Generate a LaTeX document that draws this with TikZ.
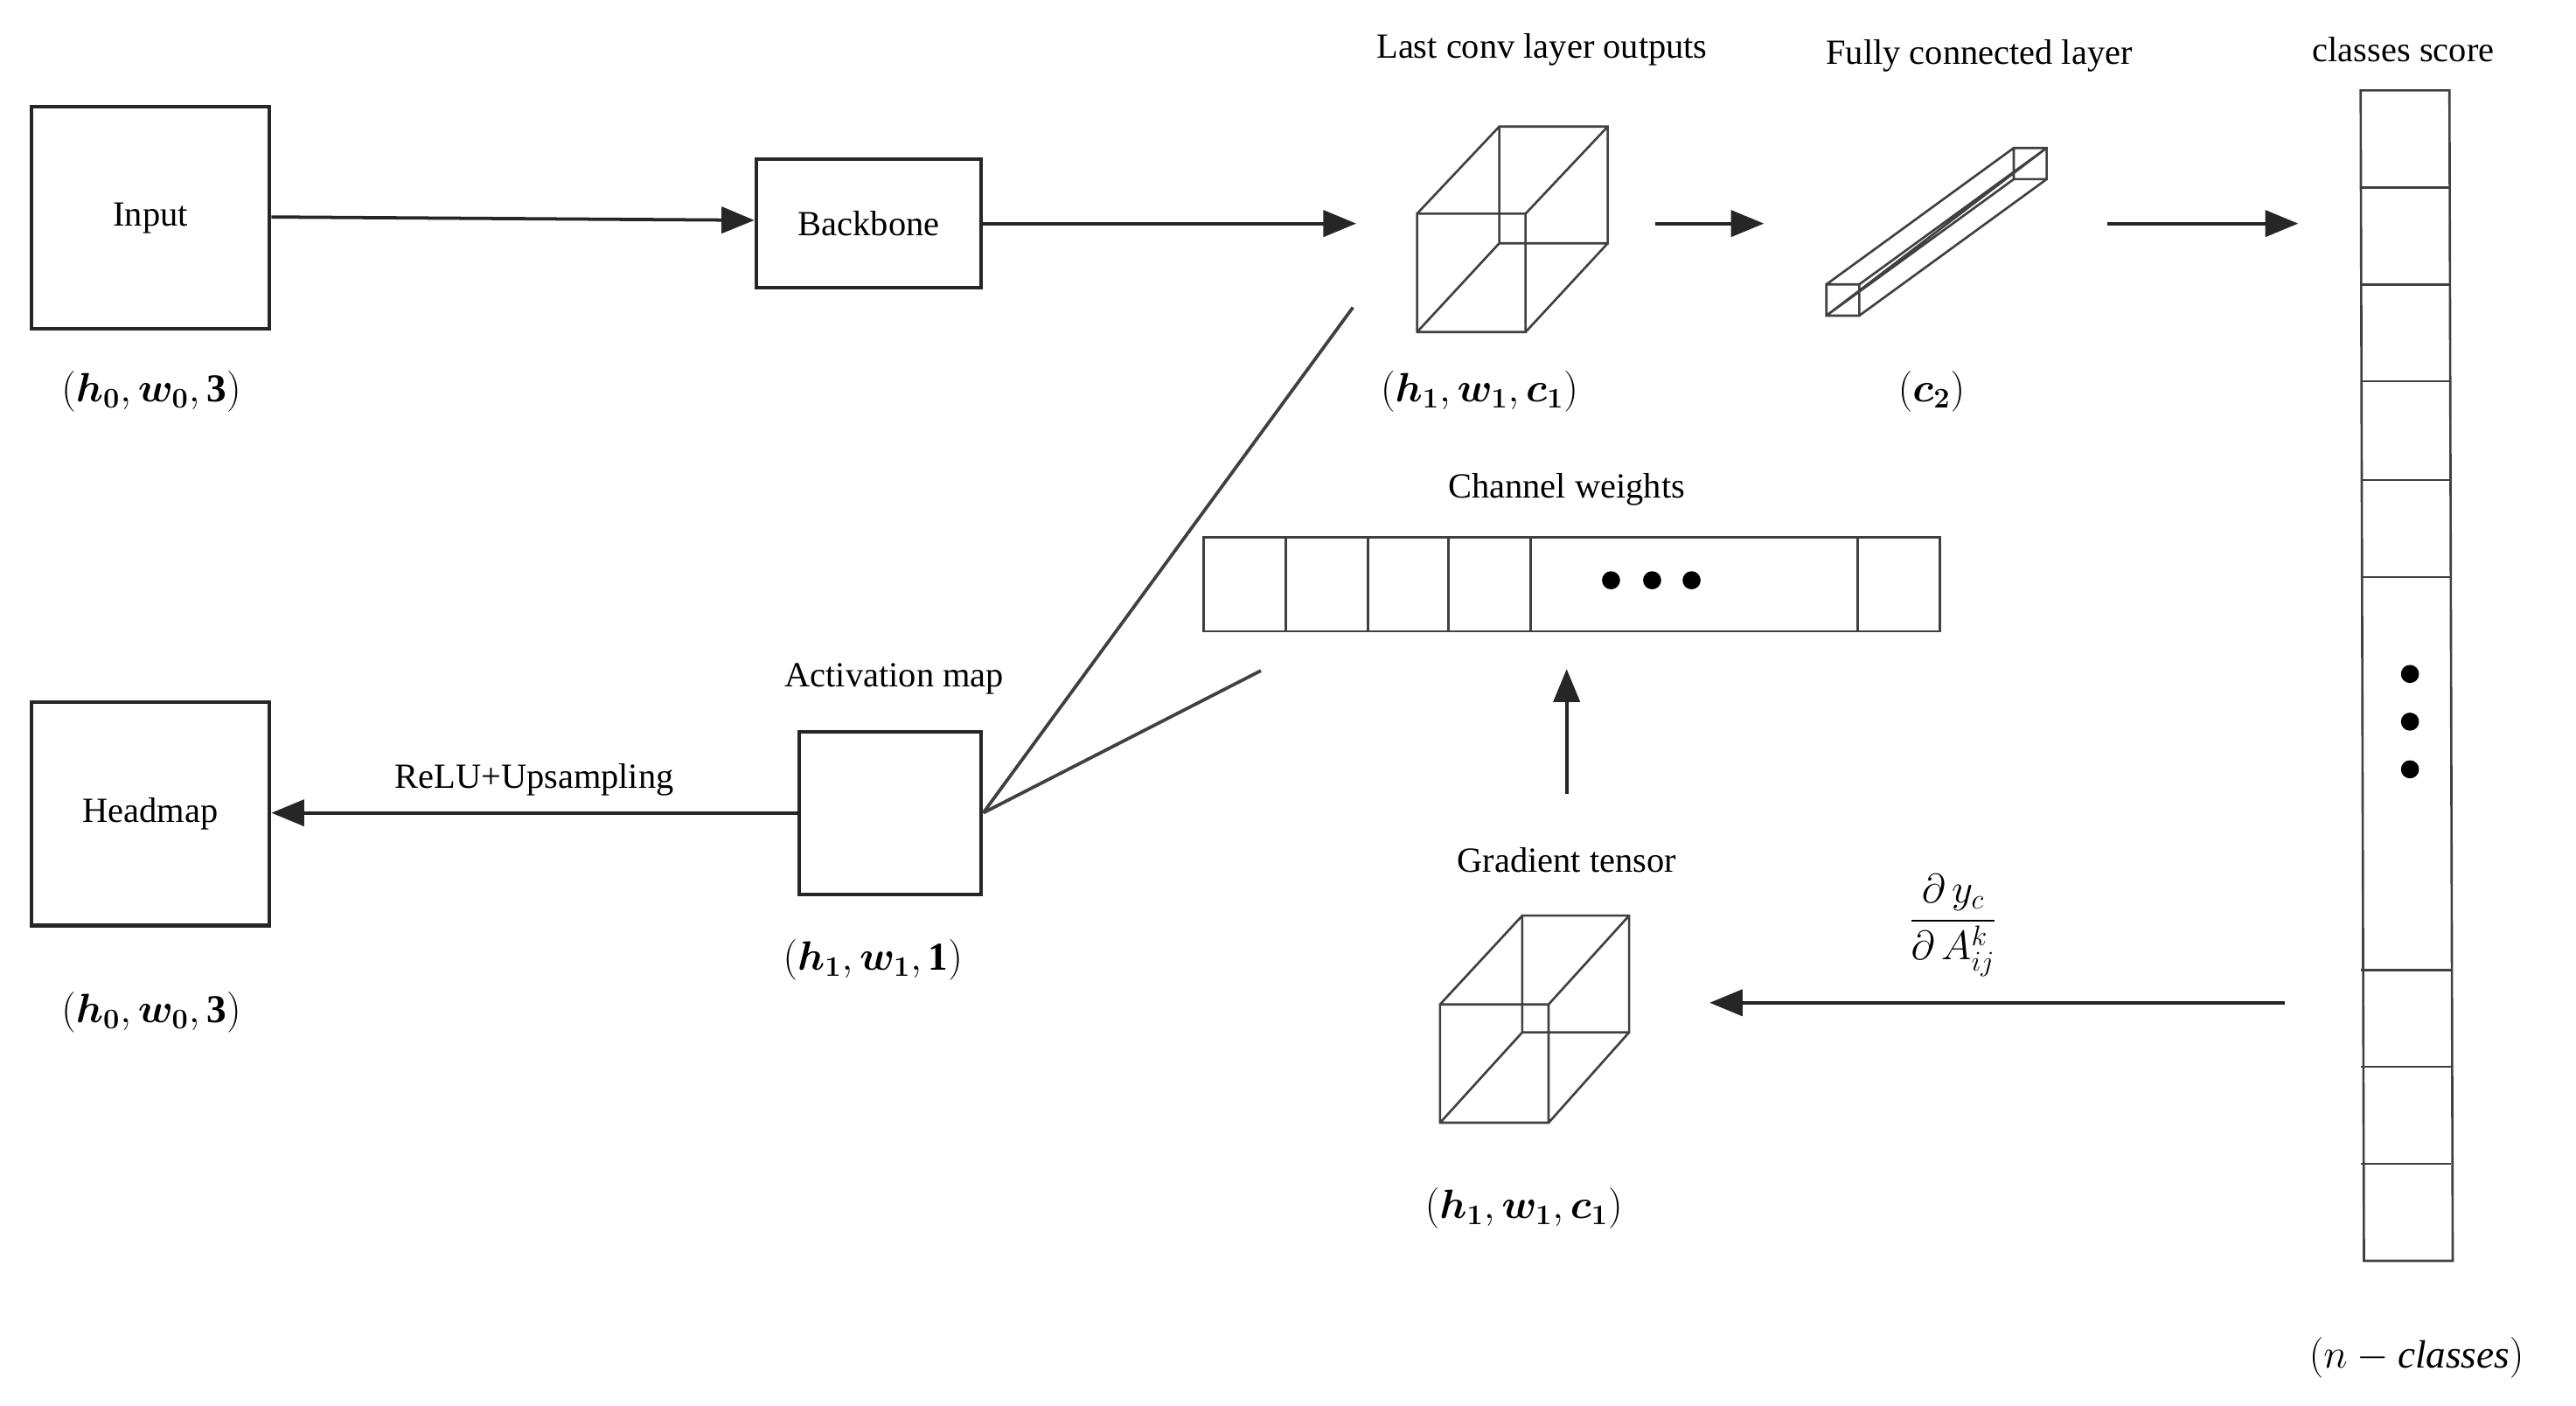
\documentclass[tikz,border=0pt]{standalone}
\usepackage{fontspec}
\setmainfont{Liberation Serif}
\usepackage{amsmath,bm}
\usetikzlibrary{arrows.meta}
\begin{document}
\begin{tikzpicture}[x=1pt,y=-1pt,
  box/.style={draw=black!85,line width=2.2pt},
  arr/.style={draw=black!85,line width=2pt,-{Triangle[length=20pt,width=16pt]}},
  thin/.style={draw=black!75,line width=1.4pt},
  lbl/.style={font=\fontsize{21.5}{24}\selectfont},
  mlbl/.style={font=\fontsize{24}{26}\selectfont}]
\useasboundingbox (0,0) rectangle (1567,855.3);
% boxes
\node[box,minimum width=145pt,minimum height=135pt,lbl] (in) at (91.5,132.5) {Input};
\node[box,minimum width=137pt,minimum height=78pt,lbl] (bb) at (528.5,136) {Backbone};
\node[box,minimum width=145pt,minimum height=136pt,lbl] (hm) at (91.5,495) {Headmap};
\node[box,minimum width=111pt,minimum height=99pt] (am) at (541.5,494.5) {};
\node[mlbl] (l1) at (92,238) {$(\bm{h_0},\bm{w_0},\mathbf{3})$};
\node[mlbl] (l2) at (92,616) {$(\bm{h_0},\bm{w_0},\mathbf{3})$};
\node[mlbl] (l3) at (531,584) {$(\bm{h_1},\bm{w_1},\mathbf{1})$};
\node[lbl] (t3) at (544,413) {Activation map};
% cube 1
\coordinate (c1) at (825,136);
\draw[thin] (862,130) rectangle (928,202) (912,77) rectangle (978,148)
  (862,130)--(912,77) (928,130)--(978,77) (862,202)--(912,148) (928,202)--(978,148);
\node[lbl] (t1) at (938,30) {Last conv layer outputs};
\node[mlbl] (l4) at (900,238) {$(\bm{h_1},\bm{w_1},\bm{c_1})$};
% FC bar
\draw[thin] (1111,173) rectangle (1131,192) (1225,90) rectangle (1245,109)
  (1111,173)--(1225,90) (1131,173)--(1245,90) (1111,192)--(1225,109) (1131,192)--(1245,109)
  (1111,192)--(1245,90);
\coordinate (f1) at (1073,136);
\coordinate (f0) at (1007,136);
\node[lbl] (t2) at (1204,34) {Fully connected layer};
\node[mlbl] (l5) at (1175,238) {$(\bm{c_2})$};
% classes column
\draw[thin] (1436,55)--(1490,55)--(1492,767)--(1438,767)--cycle;
\foreach \y in {114,173,232,292,351,590,649,708} \draw[thin] (1436,\y)--(1491,\y);
\foreach \y in {410,439,468} \fill (1466,\y) circle (5.5pt);
\node[lbl] (t4) at (1462,30) {classes score};
\node[mlbl] (l6) at (1470,826) {$(n-\mathit{classes})$};
\coordinate (s0) at (1282,136);
\coordinate (s1) at (1398,136);
% channel weights
\draw[thin] (732,327) rectangle (1180,384);
\foreach \x in {782,832,881,931,1130} \draw[thin] (\x,327)--(\x,384);
\foreach \x in {980,1005,1029} \fill (\x,353) circle (5.5pt);
\node[lbl] (t5) at (953,298) {Channel weights};
\coordinate (g0) at (953,483);
\coordinate (g1) at (953,407);
% gradient tensor
\node[lbl] (t6) at (953,523) {Gradient tensor};
\draw[thin] (876,611) rectangle (942,683) (926,557) rectangle (991,628)
  (876,611)--(926,557) (942,611)--(991,557) (876,683)--(926,628) (942,683)--(991,628);
\node[mlbl] (l7) at (927,735) {$(\bm{h_1},\bm{w_1},\bm{c_1})$};
\coordinate (d0) at (1390,610);
\coordinate (d1) at (1040,610);
\node[font=\fontsize{26}{28}\selectfont,inner sep=1pt] (fr) at (1188,563) {$\dfrac{\partial\, y_c}{\partial\, A^k_{ij}}$};
% lines from activation map
\coordinate (p1) at (823,187);
\coordinate (p2) at (767,408);
\draw[thin,line width=2pt] (am.east)--(p1) (am.east)--(p2);
% arrows
\draw[arr] (in.east|-0,132)--(bb.west|-0,134);
\draw[arr] (bb.east)--(c1);
\draw[arr] (f0)--(f1);
\draw[arr] (s0)--(s1);
\draw[arr] (g0)--(g1);
\draw[arr] (d0)--(d1);
\draw[arr] (am.west)--(hm.east|-am.west) node[midway,above=6pt,lbl] {ReLU+Upsampling};
\end{tikzpicture}
\end{document}
